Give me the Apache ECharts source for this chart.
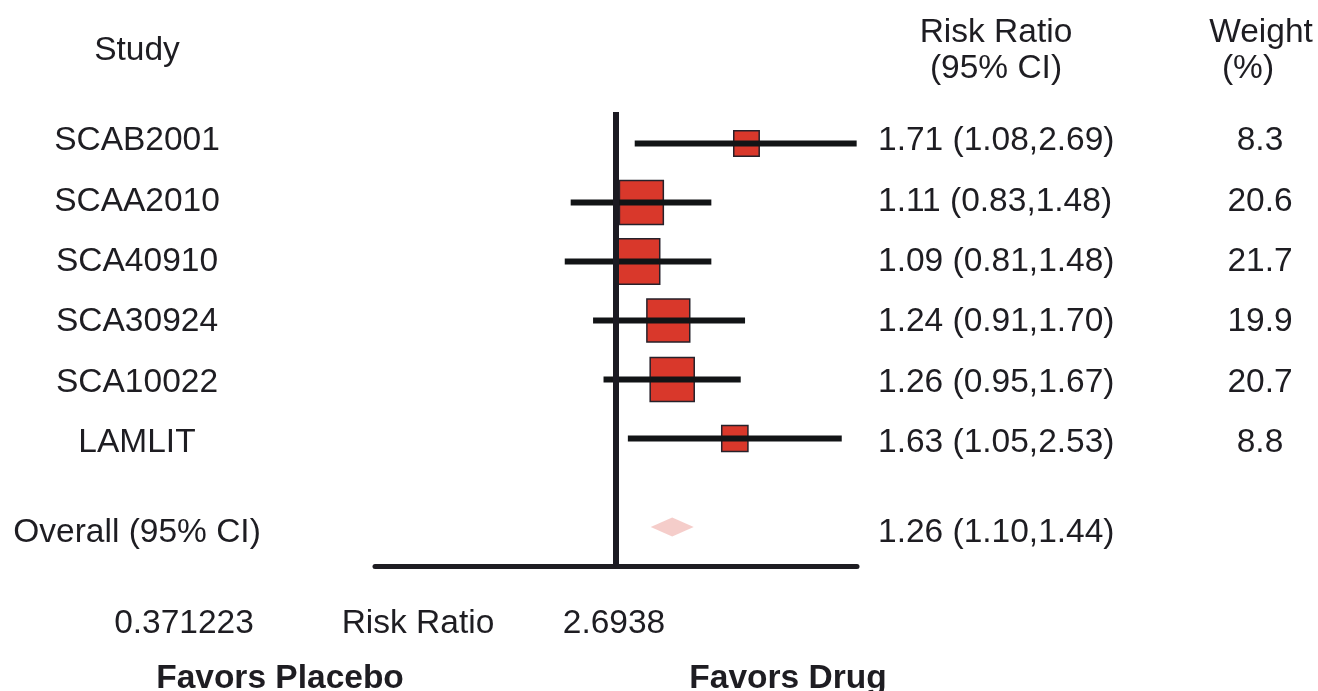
<!DOCTYPE html>
<html><head><meta charset="utf-8">
<script src="https://cdn.jsdelivr.net/npm/echarts@6/dist/echarts.min.js"></script>
<style>html,body{margin:0;padding:0;background:#fff}#c{width:1318px;height:691px}</style>
</head><body><div id="c"></div>
<script>
const studies = ['SCAB2001','SCAA2010','SCA40910','SCA30924','SCA10022','LAMLIT'];
const rr      = [1.71, 1.11, 1.09, 1.24, 1.26, 1.63];
const lower   = [1.08, 0.83, 0.81, 0.91, 0.95, 1.05];
const upper   = [2.69, 1.48, 1.48, 1.70, 1.67, 2.53];
const weights = [8.3, 20.6, 21.7, 19.9, 20.7, 8.8];
const overallLabel = 'Overall (95% CI)';
const overallRR = [1.26, 1.10, 1.44];
const axisEndLabels = ['0.371223', '2.6938'];
const axisTitle = 'Risk Ratio';
const sideLabels = ['Favors Placebo', 'Favors Drug'];
const headerStudy = 'Study';
const headerRR = ['Risk Ratio', '(95% CI)'];
const headerW = ['Weight', '(%)'];

const FONT = '"Liberation Sans", Arial, Helvetica, sans-serif';
const FS = 33.5;
const INK = '#1e1d22';
const overallRow = studies.length + 0.5;
const fmt = (e, l, h) => e.toFixed(2) + ' (' + l.toFixed(2) + ',' + h.toFixed(2) + ')';

const chart = echarts.init(document.getElementById('c'), null, {renderer: 'canvas'});

const textRows = studies.map((s, i) => [1, i, s, fmt(rr[i], lower[i], upper[i]), weights[i].toFixed(1)]);
textRows.push([1, overallRow, overallLabel, fmt(overallRR[0], overallRR[1], overallRR[2]), '']);

function txt(x, y, s, align, bold) {
  return {type: 'text', x: x, y: y, style: {text: s, fontSize: FS, fontFamily: FONT, fontWeight: bold ? 'bold' : 'normal',
    fill: INK, align: align, verticalAlign: 'middle'}};
}

chart.setOption({
  animation: false,
  backgroundColor: '#fff',
  grid: {left: 375, right: 461, top: 112, bottom: 124.5},
  xAxis: {
    type: 'log', logBase: Math.E,
    min: parseFloat(axisEndLabels[0]), max: parseFloat(axisEndLabels[1]),
    axisLine: {show: true, onZero: false, lineStyle: {color: INK, width: 5}},
    axisTick: {show: false}, axisLabel: {show: false}, splitLine: {show: false}
  },
  yAxis: [
    {type: 'value', inverse: true, min: -0.534, max: 7.169, show: false, splitLine: {show: false}},
    {type: 'value', inverse: true, min: -0.485, max: 7.052, show: false, splitLine: {show: false}}
  ],
  graphic: [
    txt(137, 51, headerStudy, 'center'),
    txt(996, 33, headerRR[0], 'center'),
    txt(996, 69, headerRR[1], 'center'),
    txt(1261, 33, headerW[0], 'center'),
    txt(1248, 69, headerW[1], 'center'),
    txt(184, 624, axisEndLabels[0], 'center'),
    txt(418, 624, axisTitle, 'center'),
    txt(614, 624, axisEndLabels[1], 'center'),
    txt(280, 679, sideLabels[0], 'center', true),
    txt(788, 679, sideLabels[1], 'center', true)
  ],
  series: [
    {
      type: 'scatter', yAxisIndex: 0, z: 2,
      symbol: 'rect',
      symbolSize: v => 13 + 1.5 * v[2],
      itemStyle: {color: '#d9382b', borderColor: '#26212a', borderWidth: 1.5, opacity: 1},
      data: studies.map((s, i) => [rr[i], i, weights[i]]),
      markLine: {
        silent: true, symbol: ['none', 'none'], label: {show: false},
        lineStyle: {color: '#1b1a22', width: 6, type: 'solid'},
        data: [{xAxis: 1}]
      }
    },
    {
      type: 'custom', yAxisIndex: 0, z: 3,
      encode: {x: [0, 1], y: 2},
      data: studies.map((s, i) => [lower[i], upper[i], i]),
      renderItem: (params, api) => {
        const y = api.value(2);
        const p1 = api.coord([api.value(0), y]);
        const p2 = api.coord([api.value(1), y]);
        return {type: 'line', shape: {x1: p1[0], y1: p1[1], x2: p2[0], y2: p2[1]},
          style: {stroke: '#121416', lineWidth: 6, lineCap: 'butt'}};
      }
    },
    {
      type: 'scatter', yAxisIndex: 0, z: 2,
      symbol: 'diamond', symbolSize: [43, 19],
      itemStyle: {color: '#f3c1bd'},
      data: [[overallRR[0], overallRow]]
    },
    {
      type: 'custom', yAxisIndex: 1, z: 4, clip: false,
      encode: {x: 0, y: 1},
      data: textRows,
      renderItem: (params, api) => {
        const row = textRows[params.dataIndex];
        const y = api.coord([1, row[1]])[1];
        return {type: 'group', children: [
          {type: 'text', style: {x: 137, y: y, text: row[2], fontSize: FS, fontFamily: FONT, fill: INK, align: 'center', verticalAlign: 'middle'}},
          {type: 'text', style: {x: 878, y: y, text: row[3], fontSize: FS, fontFamily: FONT, fill: INK, align: 'left', verticalAlign: 'middle'}},
          {type: 'text', style: {x: 1260, y: y, text: row[4], fontSize: FS, fontFamily: FONT, fill: INK, align: 'center', verticalAlign: 'middle'}}
        ]};
      }
    }
  ]
});
</script>
</body></html>
